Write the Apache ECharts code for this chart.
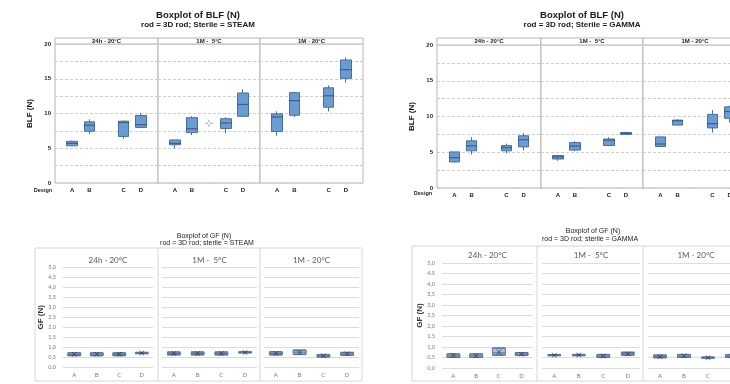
<!DOCTYPE html>
<html>
<head>
<meta charset="utf-8">
<script src="https://cdn.jsdelivr.net/npm/echarts@6/dist/echarts.min.js"></script>
<style>
  html, body { margin: 0; padding: 0; background: #fff; }
  #main { width: 730px; height: 384px; }
</style>
</head>
<body>
<div id="main"></div>
<script>
// categories
const designs = ['A', 'B', 'C', 'D'];
// Minitab panels leave an empty slot between B and C
const designSlots = ['', 'A', 'B', ' ', 'C', 'D', '  '];
const periods = ['24h - 20°C', '1M -  5°C', '1M - 20°C'];

// BLF (N), rows A..D: [min, Q1, median, Q3, max]
const blfSteam24h = [[5.3, 5.35, 5.7, 6.0, 6.1], [7.05, 7.45, 8.3, 8.8, 9.15], [6.35, 6.7, 8.7, 8.9, 9.0], [7.95, 8.0, 8.4, 9.7, 10.1]];
const blfSteam1m5 = [[5.0, 5.5, 5.7, 6.2, 6.2], [6.9, 7.25, 7.8, 9.4, 9.6], [7.15, 7.85, 8.65, 9.25, 9.45], [9.5, 9.6, 11.3, 12.95, 13.5]];
const blfSteam1m20 = [[6.8, 7.4, 9.5, 9.95, 10.3], [9.5, 9.75, 11.85, 13.0, 13.1], [10.3, 10.9, 12.55, 13.7, 14.05], [14.45, 15.05, 16.3, 17.7, 18.05]];
const blfSteamExtra = 8.6; // lone marker between B and C, 1M - 5°C

const blfGamma24h = [[3.55, 3.65, 4.25, 5.05, 5.05], [4.7, 5.2, 5.9, 6.6, 7.1], [4.85, 5.2, 5.65, 5.95, 6.2], [5.25, 5.75, 6.75, 7.3, 7.65]];
const blfGamma1m5 = [[3.8, 4.05, 4.35, 4.55, 4.6], [5.15, 5.3, 5.85, 6.35, 6.55], [5.9, 5.95, 6.7, 6.85, 7.1], [7.45, 7.5, 7.65, 7.75, 7.85]];
const blfGamma1m20 = [[5.75, 5.8, 6.15, 7.15, 7.2], [8.75, 8.8, 9.4, 9.5, 9.6], [7.75, 8.4, 9.0, 10.3, 10.9], [9.15, 9.75, 10.7, 11.35, 11.5]];

// GF (N), rows A..D: [min, Q1, median, Q3, max] plus means
const gfSteam24h = [[0.58, 0.6, 0.65, 0.72, 0.74], [0.58, 0.6, 0.66, 0.72, 0.74], [0.58, 0.6, 0.65, 0.71, 0.74], [0.68, 0.7, 0.72, 0.74, 0.76]];
const gfSteam24hMean = [0.66, 0.66, 0.66, 0.72];
const gfSteam1m5 = [[0.62, 0.64, 0.7, 0.76, 0.78], [0.62, 0.64, 0.7, 0.76, 0.78], [0.62, 0.64, 0.7, 0.76, 0.78], [0.72, 0.74, 0.76, 0.77, 0.79]];
const gfSteam1m5Mean = [0.7, 0.7, 0.7, 0.75];
const gfSteam1m20 = [[0.62, 0.64, 0.7, 0.77, 0.79], [0.64, 0.66, 0.76, 0.86, 0.87], [0.52, 0.53, 0.58, 0.63, 0.65], [0.6, 0.62, 0.68, 0.74, 0.76]];
const gfSteam1m20Mean = [0.7, 0.75, 0.58, 0.68];

const gfGamma24h = [[0.5, 0.52, 0.58, 0.66, 0.68], [0.5, 0.52, 0.58, 0.66, 0.68], [0.6, 0.63, 0.72, 0.94, 0.96], [0.6, 0.62, 0.66, 0.72, 0.74]];
const gfGamma24hMean = [0.59, 0.58, 0.76, 0.66];
const gfGamma1m5 = [[0.58, 0.6, 0.61, 0.62, 0.64], [0.58, 0.6, 0.62, 0.63, 0.65], [0.5, 0.52, 0.57, 0.63, 0.65], [0.6, 0.63, 0.68, 0.74, 0.76]];
const gfGamma1m5Mean = [0.61, 0.62, 0.57, 0.67];
const gfGamma1m20 = [[0.48, 0.5, 0.54, 0.61, 0.62], [0.5, 0.52, 0.57, 0.63, 0.65], [0.46, 0.48, 0.5, 0.51, 0.53], [0.5, 0.52, 0.56, 0.62, 0.64]];
const gfGamma1m20Mean = [0.54, 0.58, 0.49, 0.57];

const topFont = '"Liberation Sans", Arial, sans-serif';
const excelFont = 'Lato, "Open Sans", sans-serif';
const xMark = 'path://M0,1L1,0L5,4L9,0L10,1L6,5L10,9L9,10L5,6L1,10L0,9L4,5Z';
const plusMark = 'path://M4,0H6V3.5H4ZM4,6.5H6V10H4ZM0,4H3.5V6H0ZM6.5,4H10V6H6.5Z';

const chart = echarts.init(document.getElementById('main'));
const grids = [];
const xAxes = [];
const yAxes = [];
const series = [];
const graphics = [];

const label = (text, x, y, font, fill, rotation) => {
  graphics.push({
    type: 'text',
    x: x,
    y: y,
    rotation: rotation || 0,
    silent: true,
    style: { text: text, font: font, fill: fill || '#1a1a1a', textAlign: 'center', textVerticalAlign: 'middle' },
  });
};

// Minitab style panel (BLF)
const blfPanel = (left, width, top, height, boxes, first, name, extra) => {
  const gi = grids.length;
  grids.push({ left, top, width, height, show: true, borderColor: '#b5b5b5', borderWidth: 1, backgroundColor: '#fff', outerBoundsMode: 'none' });
  xAxes.push({
    gridIndex: gi,
    type: 'category',
    data: designSlots,
    boundaryGap: false,
    axisLine: { show: false },
    axisTick: { show: false },
    splitLine: { show: false },
    axisLabel: { interval: 0, margin: 4, color: '#222', fontSize: 6, fontWeight: 'bold', fontFamily: topFont },
  });
  yAxes.push({
    gridIndex: gi,
    type: 'value',
    min: 0,
    max: 20,
    interval: 2.5,
    name: first ? name : '',
    nameLocation: 'middle',
    nameGap: 21,
    nameTextStyle: { color: '#111', fontSize: 8, fontWeight: 'bold', fontFamily: topFont },
    axisLine: { show: false },
    axisTick: { show: false },
    axisLabel: {
      show: first,
      margin: 4,
      color: '#222',
      fontSize: 6,
      fontWeight: 'bold',
      fontFamily: topFont,
      formatter: (v) => (v % 5 === 0 ? String(v) : ''),
    },
    splitLine: { lineStyle: { type: [3, 2], color: '#cfcfcf', width: 1 } },
  });
  series.push({
    type: 'candlestick',
    xAxisIndex: gi,
    yAxisIndex: gi,
    barWidth: 11,
    silent: true,
    encode: { x: 0, y: [1, 2, 3, 4] },
    // open = Q1, close = Q3, low = min, high = max
    data: designs.map((d, i) => [d, boxes[i][1], boxes[i][3], boxes[i][0], boxes[i][4]]),
    itemStyle: { color: '#6b9bd3', color0: '#6b9bd3', borderColor: '#46709f', borderColor0: '#46709f', borderWidth: 1 },
  });
  series.push({
    type: 'scatter',
    xAxisIndex: gi,
    yAxisIndex: gi,
    silent: true,
    z: 3,
    symbol: 'rect',
    symbolSize: [11, 1.2],
    data: designs.map((d, i) => [d, boxes[i][2]]),
    itemStyle: { color: '#34506f' },
  });
  if (extra !== undefined) {
    series.push({
      type: 'scatter',
      xAxisIndex: gi,
      yAxisIndex: gi,
      silent: true,
      symbol: plusMark,
      symbolSize: 7,
      data: [[' ', extra]],
      itemStyle: { color: '#a8a8a8' },
    });
  }
};

// Excel style panel (GF)
const gfPanel = (left, width, top, height, boxes, means, first, name) => {
  const gi = grids.length;
  grids.push({ left, top, width, height, show: false, outerBoundsMode: 'none' });
  xAxes.push({
    gridIndex: gi,
    type: 'category',
    data: designs,
    axisLine: { show: false },
    axisTick: { show: false },
    axisLabel: { margin: 5, color: '#7a7a7a', fontSize: 6, fontFamily: excelFont },
  });
  yAxes.push({
    gridIndex: gi,
    type: 'value',
    min: 0,
    max: 5,
    interval: 0.5,
    name: first ? name : '',
    nameLocation: 'middle',
    nameGap: 18,
    nameTextStyle: { color: '#333', fontSize: 8, fontWeight: 'bold', fontFamily: topFont },
    axisLine: { show: false },
    axisTick: { show: false },
    axisLabel: {
      show: first,
      margin: 7,
      color: '#7a7a7a',
      fontSize: 5.5,
      fontFamily: excelFont,
      formatter: (v) => v.toFixed(1).replace('.', ','),
    },
    splitLine: { lineStyle: { color: '#dcdcdc', width: 1 } },
  });
  series.push({
    type: 'boxplot',
    xAxisIndex: gi,
    yAxisIndex: gi,
    silent: true,
    boxWidth: [13, 13],
    data: boxes.map((b) => b.slice()),
    itemStyle: { color: '#abc0e2', borderColor: '#56739c', borderWidth: 1 },
  });
  series.push({
    type: 'scatter',
    xAxisIndex: gi,
    yAxisIndex: gi,
    silent: true,
    z: 3,
    symbol: xMark,
    symbolSize: 5,
    data: means.map((m, i) => [designs[i], m]),
    itemStyle: { color: '#2e2e2e' },
  });
};

// ---- Boxplot of BLF, STEAM (top left)
label('Boxplot of BLF (N)', 198, 15, 'bold 9.5px ' + topFont);
label('rod = 3D rod; Sterile = STEAM', 198, 25, 'bold 8px ' + topFont);
const tlLeft = [55, 158, 260];
const tlWidth = [103, 102, 103];
[blfSteam24h, blfSteam1m5, blfSteam1m20].forEach((b, i) => {
  blfPanel(tlLeft[i], tlWidth[i], 44, 139, b, i === 0, 'BLF (N)', i === 1 ? blfSteamExtra : undefined);
  graphics.push({ type: 'rect', silent: true, shape: { x: tlLeft[i], y: 38, width: tlWidth[i], height: 6 }, style: { fill: '#fff', stroke: '#b5b5b5', lineWidth: 1 } });
  label(periods[i], tlLeft[i] + tlWidth[i] / 2, 41, 'bold 6px ' + topFont);
});
label('Design', 43, 190, 'bold 5.5px ' + topFont);

// ---- Boxplot of BLF, GAMMA (top right)
label('Boxplot of BLF (N)', 582, 15, 'bold 9.5px ' + topFont);
label('rod = 3D rod; Sterile = GAMMA', 582, 25, 'bold 8px ' + topFont);
const trLeft = [437, 541, 643];
const trWidth = [104, 102, 104];
[blfGamma24h, blfGamma1m5, blfGamma1m20].forEach((b, i) => {
  blfPanel(trLeft[i], trWidth[i], 45, 143, b, i === 0, 'BLF (N)');
  graphics.push({ type: 'rect', silent: true, shape: { x: trLeft[i], y: 38, width: trWidth[i], height: 7 }, style: { fill: '#fff', stroke: '#b5b5b5', lineWidth: 1 } });
  label(periods[i], trLeft[i] + trWidth[i] / 2, 41.5, 'bold 6px ' + topFont);
});
label('Design', 423, 193, 'bold 5.5px ' + topFont);

// ---- Boxplot of GF, STEAM (bottom left)
graphics.push({ type: 'rect', silent: true, shape: { x: 35, y: 248, width: 327, height: 133 }, style: { fill: 'none', stroke: '#d6d6d6', lineWidth: 1 } });
[158, 260].forEach((x) => graphics.push({ type: 'line', silent: true, shape: { x1: x, y1: 248, x2: x, y2: 381 }, style: { stroke: '#d6d6d6', lineWidth: 1 } }));
label('Boxplof of GF (N)', 204, 236, '7px ' + topFont, '#222');
label('rod = 3D rod; sterile = STEAM', 207, 243.5, '7px ' + topFont, '#222');
const blLeft = [63, 162, 264];
const blWidth = [90, 95, 95];
[[gfSteam24h, gfSteam24hMean], [gfSteam1m5, gfSteam1m5Mean], [gfSteam1m20, gfSteam1m20Mean]].forEach((p, i) => {
  gfPanel(blLeft[i], blWidth[i], 267, 100.5, p[0], p[1], i === 0, 'GF (N)');
  label(periods[i], blLeft[i] + blWidth[i] / 2, 260, '8px ' + excelFont, '#595959');
});

// ---- Boxplot of GF, GAMMA (bottom right)
graphics.push({ type: 'rect', silent: true, shape: { x: 412, y: 246, width: 340, height: 135 }, style: { fill: 'none', stroke: '#d6d6d6', lineWidth: 1 } });
[537, 643].forEach((x) => graphics.push({ type: 'line', silent: true, shape: { x1: x, y1: 246, x2: x, y2: 381 }, style: { stroke: '#d6d6d6', lineWidth: 1 } }));
label('Boxplof of GF (N)', 593, 231, '7px ' + topFont, '#222');
label('rod = 3D rod; sterile = GAMMA', 590, 239.5, '7px ' + topFont, '#222');
const brLeft = [442, 542, 648];
const brWidth = [91, 98, 96];
[[gfGamma24h, gfGamma24hMean], [gfGamma1m5, gfGamma1m5Mean], [gfGamma1m20, gfGamma1m20Mean]].forEach((p, i) => {
  gfPanel(brLeft[i], brWidth[i], 263, 105, p[0], p[1], i === 0, 'GF (N)');
  label(periods[i], brLeft[i] + brWidth[i] / 2, 255, '8px ' + excelFont, '#595959');
});

chart.setOption({
  backgroundColor: '#fff',
  animation: false,
  tooltip: { show: false },
  grid: grids,
  xAxis: xAxes,
  yAxis: yAxes,
  series: series,
  graphic: graphics,
});
</script>
</body>
</html>
